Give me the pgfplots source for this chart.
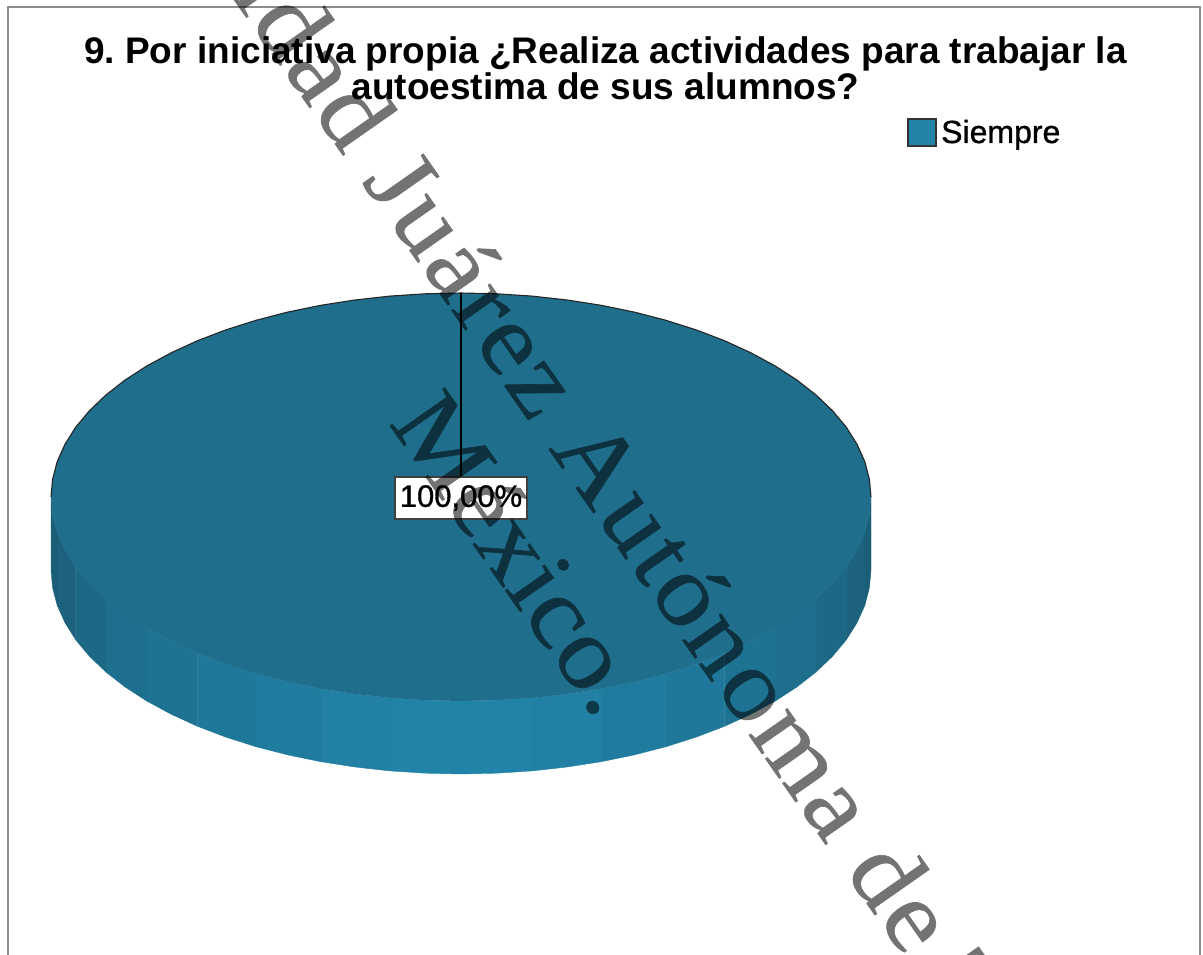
\documentclass[border=0pt]{standalone}
\usepackage{pgfplots}
\usepackage{fontspec}
\setmainfont{Liberation Sans}
\newfontfamily\medfont[FakeBold=1]{Liberation Sans}
\newfontfamily\wmfont[LetterSpace=2.8,FakeStretch=1.08,FakeBold=0.6]{Liberation Serif}
\newfontfamily\wmfontb[FakeStretch=1.08,FakeBold=0.6]{Liberation Serif}
\pgfplotsset{compat=1.18}
\definecolor{pietop}{HTML}{1F6E8C}
\definecolor{sidelight}{HTML}{2183A7}
\definecolor{sidedark}{HTML}{1B5E78}
\definecolor{swatch}{HTML}{2184A8}
\definecolor{frame}{HTML}{8C8C8C}
% one facet of the pie's rim: percent of light colour, then three points on the top edge
\newcommand{\rim}[7]{%
  \pgfmathsetmacro{\ba}{#3+73}\pgfmathsetmacro{\bb}{#5+73}\pgfmathsetmacro{\bc}{#7+73}%
  \addplot[fill=sidelight!#1!sidedark, draw=sidelight!#1!sidedark, line width=0.4pt]
    coordinates {(#2,#3) (#4,#5) (#6,#7) (#6,\bc) (#4,\bb) (#2,\ba)} -- cycle;
}
\begin{document}
\frenchspacing
\begin{tikzpicture}
\begin{axis}[
    scale only axis,
    width=1203pt, height=955pt,
    xmin=0, xmax=1203, ymin=0, ymax=955,
    y dir=reverse,
    hide axis,
    no markers,
    cycle list={{black}},
]
% frame
\addplot[frame, line width=2pt] coordinates {(8,960) (8,7) (1200,7) (1200,960)};
% rim, right half
\rim{0}{871}{497}{869.4}{514.8}{864.8}{532.4}
\rim{12}{864.8}{532.4}{857}{549.8}{846.3}{566.8}
\rim{28}{846.3}{566.8}{832.6}{583.2}{816.1}{599}
\rim{44}{816.1}{599}{796.9}{614}{775.1}{628.1}
\rim{58}{775.1}{628.1}{750.9}{641.2}{724.5}{653.3}
\rim{70}{724.5}{653.3}{696.2}{664.1}{666}{673.7}
\rim{82}{666}{673.7}{634.3}{681.9}{601.2}{688.7}
\rim{92}{601.2}{688.7}{567.1}{694}{532.2}{697.9}
\rim{100}{532.2}{697.9}{496.7}{700.2}{461}{701}
% rim, left half
\rim{100}{461}{701}{425.3}{700.2}{389.8}{697.9}
\rim{92}{389.8}{697.9}{354.9}{694}{320.8}{688.7}
\rim{82}{320.8}{688.7}{287.7}{681.9}{256}{673.7}
\rim{70}{256}{673.7}{225.8}{664.1}{197.5}{653.3}
\rim{58}{197.5}{653.3}{171.1}{641.2}{146.9}{628.1}
\rim{44}{146.9}{628.1}{125.1}{614}{105.9}{599}
\rim{28}{105.9}{599}{89.4}{583.2}{75.7}{566.8}
\rim{12}{75.7}{566.8}{65}{549.8}{57.2}{532.4}
\rim{0}{57.2}{532.4}{52.6}{514.8}{51}{497}
% top face
\addplot[fill=pietop, draw=none] coordinates {
  (51,497) (52.6,479.2) (57.2,461.6) (65,444.2) (75.7,427.2) (89.4,410.8) (105.9,395) (125.1,380)
  (146.9,365.9) (171.1,352.8) (197.5,340.7) (225.8,329.9) (256,320.3) (287.7,312.1) (320.8,305.3)
  (354.9,300) (389.8,296.1) (425.3,293.8) (461,293) (496.7,293.8) (532.2,296.1) (567.1,300)
  (601.2,305.3) (634.3,312.1) (666,320.3) (696.2,329.9) (724.5,340.7) (750.9,352.8) (775.1,365.9)
  (796.9,380) (816.1,395) (832.6,410.8) (846.3,427.2) (857,444.2) (864.8,461.6) (869.4,479.2) (871,497)
  (869.4,514.8) (864.8,532.4) (857,549.8) (846.3,566.8) (832.6,583.2) (816.1,599) (796.9,614)
  (775.1,628.1) (750.9,641.2) (724.5,653.3) (696.2,664.1) (666,673.7) (634.3,681.9) (601.2,688.7)
  (567.1,694) (532.2,697.9) (496.7,700.2) (461,701) (425.3,700.2) (389.8,697.9) (354.9,694)
  (320.8,688.7) (287.7,681.9) (256,673.7) (225.8,664.1) (197.5,653.3) (171.1,641.2) (146.9,628.1)
  (125.1,614) (105.9,599) (89.4,583.2) (75.7,566.8) (65,549.8) (57.2,532.4) (52.6,514.8)
} -- cycle;
% dark upper outline
\addplot[black!85, line width=1.1pt] coordinates {
  (51,497) (52.6,479.2) (57.2,461.6) (65,444.2) (75.7,427.2) (89.4,410.8) (105.9,395) (125.1,380)
  (146.9,365.9) (171.1,352.8) (197.5,340.7) (225.8,329.9) (256,320.3) (287.7,312.1) (320.8,305.3)
  (354.9,300) (389.8,296.1) (425.3,293.8) (461,293) (496.7,293.8) (532.2,296.1) (567.1,300)
  (601.2,305.3) (634.3,312.1) (666,320.3) (696.2,329.9) (724.5,340.7) (750.9,352.8) (775.1,365.9)
  (796.9,380) (816.1,395) (832.6,410.8) (846.3,427.2) (857,444.2) (864.8,461.6) (869.4,479.2) (871,497)
};
% leader line
\addplot[black, line width=1.2pt] coordinates {(461,293) (461,477)};
% legend swatch
\addplot[fill=swatch, draw=black!80, line width=1.5pt] coordinates {(908,119) (936,119) (936,146) (908,146)} -- cycle;
\node[anchor=base west, inner sep=0pt, font=\fontsize{32}{36}\selectfont\medfont] at (axis cs:941,143) {Siempre};
% title
\node[align=center, inner sep=0pt, font=\fontsize{37}{36}\selectfont\bfseries] at (axis cs:605.5,68)
  {9. Por iniciativa propia ¿Realiza actividades para trabajar la\\autoestima de sus alumnos?};
% value label
\node[fill=white, draw=black!75, line width=1.2pt, minimum width=132pt, minimum height=42pt, inner sep=0pt,
  font=\fontsize{31}{36}\selectfont\medfont] at (axis cs:461,498) {100,00\%};
% watermark, as one group so the emboldened outlines do not show through
\begin{scope}[transparency group, opacity=0.55]
\node[rotate=-55, anchor=base east, inner sep=0pt, text=black,
  font=\fontsize{102}{110}\selectfont\wmfont] at (axis cs:844,871)
  {Universidad Juárez Autónoma\mbox{\ }};
\node[rotate=-55, anchor=base west, inner sep=0pt, text=black,
  font=\fontsize{102}{110}\selectfont\wmfont] at (axis cs:844,871)
  {de Tabasco.};
\node[rotate=-55, anchor=base west, inner sep=0pt, text=black,
  font=\fontsize{102}{110}\selectfont\wmfontb] at (axis cs:388,423)
  {México.};
\end{scope}
\end{axis}
\pgfresetboundingbox
\path[use as bounding box] (0,0) rectangle (1203pt,955pt);
\end{tikzpicture}
\end{document}
